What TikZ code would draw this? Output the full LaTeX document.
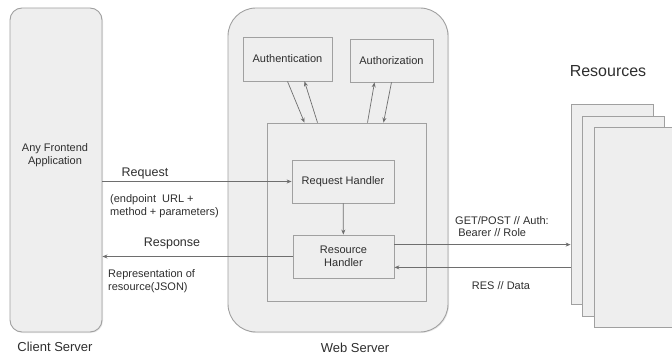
\documentclass[tikz,border=0pt]{standalone}
\usepackage{fontspec}
\setmainfont{Liberation Sans}
\usetikzlibrary{arrows.meta,shadows}

\definecolor{boxfill}{HTML}{EEEEEE}
\definecolor{boxline}{HTML}{A0A0A0}
\definecolor{wirecol}{HTML}{6E6E6E}
\definecolor{ink}{HTML}{2E2E2E}

\tikzset{
  server/.style={draw=boxline, fill=boxfill, line width=0.9pt, inner sep=0pt,
    drop shadow={opacity=0.18, shadow xshift=1pt, shadow yshift=-1pt}},
  block/.style={draw=boxline, fill=boxfill, line width=0.8pt, inner sep=0pt,
    align=center, text=ink, font=\fontsize{11}{13.5}\selectfont},
  page/.style={draw=boxline, fill=boxfill, line width=0.8pt, minimum width=82pt, minimum height=200pt},
  wire/.style={draw=wirecol, line width=0.7pt, -{Stealth[length=5pt,width=4pt]}},
  note/.style={text=ink, align=left, inner sep=0pt, font=\fontsize{11}{13}\selectfont},
  caption/.style={text=ink, inner sep=0pt, font=\fontsize{13}{15}\selectfont},
}

\begin{document}
\begin{tikzpicture}[x=1pt,y=-1pt]
  \useasboundingbox (0,0) rectangle (672,358);

  % client side
  \node[server, rounded corners=12pt, minimum width=92pt, minimum height=324pt] (client) at (56,170) {};
  \node[note, align=center] (frontend) at (55,155) {Any Frontend\\Application};
  \node[caption] (clientcap) at (55,347) {Client Server};

  % web server
  \node[server, rounded corners=28pt, minimum width=220pt, minimum height=324pt] (web) at (338,170) {};
  \node[caption] (webcap) at (355,348) {Web Server};
  \node[block, minimum width=89pt, minimum height=44pt] (authn) at (287.5,59) {Authentication};
  \node[block, minimum width=83pt, minimum height=43pt] (authz) at (391.5,60.5) {Authorization};
  \node[block, minimum width=159pt, minimum height=178pt] (inner) at (346.5,212) {};
  \node[block, minimum width=102pt, minimum height=43pt] (reqh) at (343,181.5) {Request Handler};
  \node[block, minimum width=101pt, minimum height=43pt] (resh) at (343.5,256.5) {Resource\\Handler};

  % resources, stacked pages
  \node[caption, font=\fontsize{16}{18}\selectfont] (rescap) at (608,71) {Resources};
  \node[page] (p1) at (612,204.5) {};
  \node[page] (p2) at (623.5,216) {};
  \node[page] (p3) at (635,227) {};

  % auth round trips
  \draw[wire] (authn.south) -- ([xshift=-42pt]inner.north);
  \draw[wire] ([xshift=-29pt]inner.north) -- ([xshift=17pt]authn.south);
  \draw[wire] ([xshift=21pt]inner.north) -- ([xshift=-17pt]authz.south);
  \draw[wire] (authz.south) -- ([xshift=37pt]inner.north);
  \draw[wire] (reqh) -- (resh);

  % request / response
  \draw[wire] (client.east |- reqh.west) -- (reqh.west);
  \draw[wire] (resh.west) -- (client.east |- resh.west);
  \node[caption, font=\fontsize{12.5}{15}\selectfont] (reqlbl) at (145,173) {Request};
  \node[note, anchor=west] (reqnote) at (110,206.5) {(endpoint\ \ URL +\\method + parameters)};
  \node[caption, font=\fontsize{12.5}{15}\selectfont] (reslbl) at (172,243) {Response};
  \node[note, anchor=west] (resnote) at (108,281.5) {Representation of\\resource(JSON)};

  % resource access
  \coordinate (getout) at ([yshift=-10pt]resh.north east);
  \coordinate (resin) at ([yshift=11pt]resh.south east);
  \draw[wire] (getout) -- (getout -| p1.west);
  \draw[wire] (resin -| p1.west) -- (resin);
  \node[note, anchor=west, font=\fontsize{11}{12}\selectfont] (getnote) at (455,227) {GET/POST // Auth:\\\ Bearer // Role};
  \node[note] (datanote) at (501,286) {RES // Data};
\end{tikzpicture}
\end{document}
